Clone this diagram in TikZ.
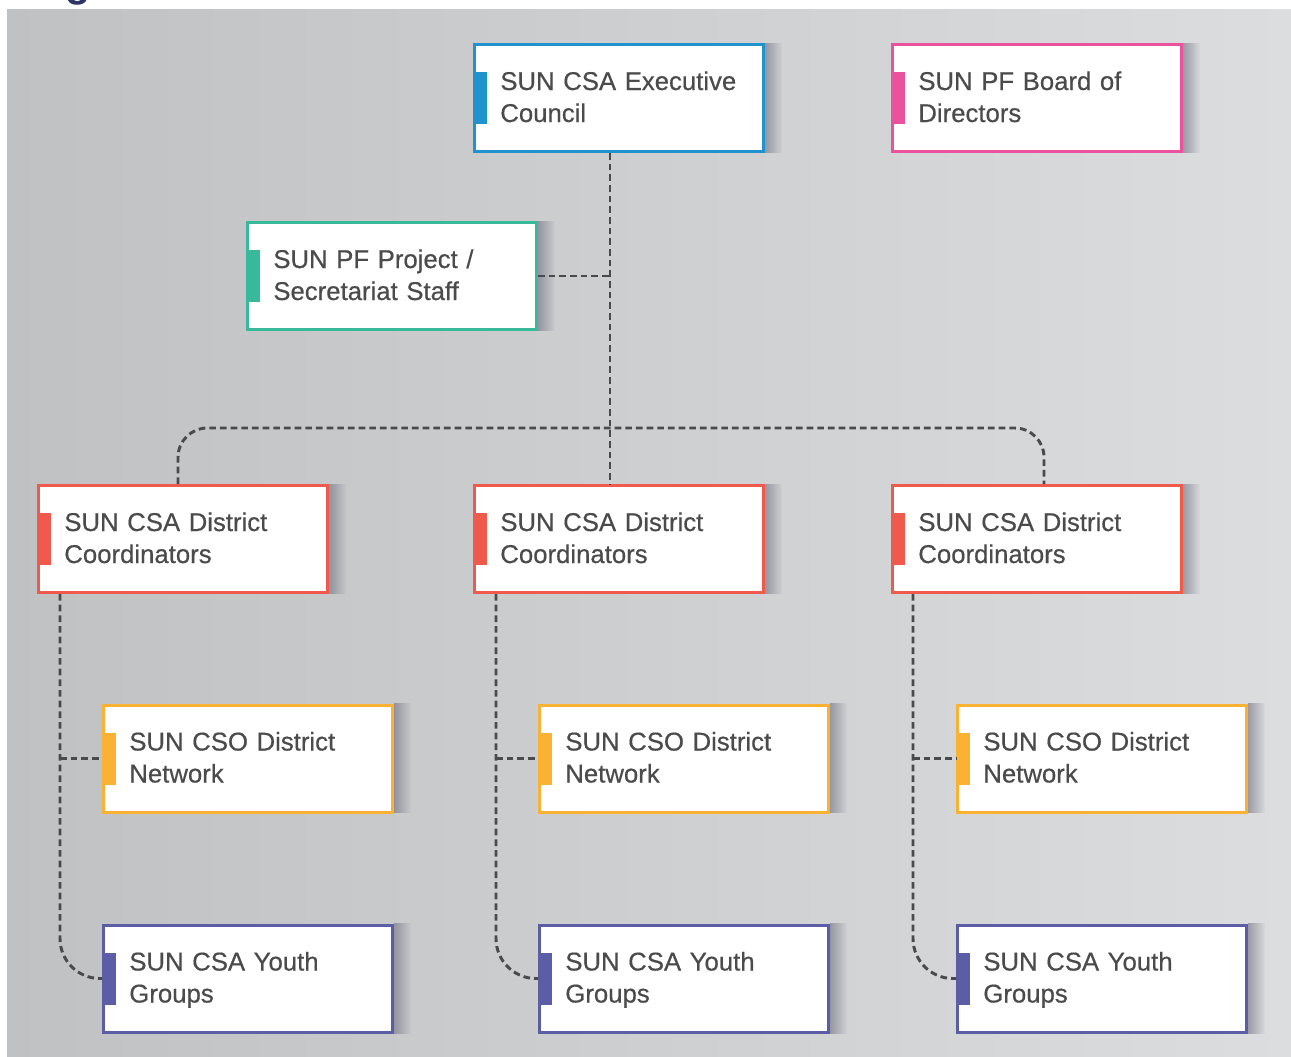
\documentclass[tikz,border=0pt]{standalone}
\usepackage{fontspec}
\setmainfont{Liberation Sans}
\newfontfamily\boxfont{Liberation Sans}[FakeBold=0.5]
\usetikzlibrary{fadings}
\definecolor{execblue}{HTML}{2093CF}
\definecolor{boardpink}{HTML}{EA529D}
\definecolor{staffteal}{HTML}{38B99C}
\definecolor{coordred}{HTML}{EF5A4C}
\definecolor{netorange}{HTML}{FBB131}
\definecolor{youthpurple}{HTML}{5B5EA6}
\definecolor{boxtext}{HTML}{4B4B4B}
\definecolor{linkgray}{HTML}{4A4A4C}
\definecolor{bgleft}{HTML}{C0C1C3}
\definecolor{bgright}{HTML}{DCDDDF}
\definecolor{shadowgray}{HTML}{6E7080}
\definecolor{titleblue}{HTML}{2D3767}

\begin{document}
\begin{tikzpicture}[x=0.75pt,y=-0.75pt,
    orgbox/.style={draw=#1, line width=2.25pt, fill=white,
        minimum width=216.75pt, minimum height=80.25pt, inner xsep=0pt,
        text width=178pt, align=left, text height=15pt, text depth=27pt,
        font=\boxfont\fontsize{19.3pt}{24pt}\selectfont, text=boxtext,
        path picture={\fill[#1] ([yshift=-19.5pt]path picture bounding box.west)
            rectangle ([xshift=9pt,yshift=19.5pt]path picture bounding box.west);}},
    link/.style={draw=linkgray, line width=2.2pt, dash pattern=on 5pt off 3pt}]
        \useasboundingbox (0,0) rectangle (1291,1056);
        \shade[left color=bgleft, right color=bgright] (7,10) rectangle (1291,1056);
        \node[anchor=base, text=titleblue, font=\bfseries\fontsize{31pt}{31pt}\selectfont] (title) at (78,-3) {g};

        % top row
        \node[orgbox=execblue] (exec) at (619,98) {SUN CSA Executive\\Council};
        \node[orgbox=boardpink] (board) at (1037,98) {SUN PF Board of\\Directors};
        \node[orgbox=staffteal] (staff) at (392,276) {SUN PF Project /\\Secretariat Staff};

        % districts
        \node[orgbox=coordred] (coordA) at (183,539) {SUN CSA District\\Coordinators};
        \node[orgbox=coordred] (coordB) at (619,539) {SUN CSA District\\Coordinators};
        \node[orgbox=coordred] (coordC) at (1037,539) {SUN CSA District\\Coordinators};

        \node[orgbox=netorange] (netA) at (248,758.5) {SUN CSO District\\Network};
        \node[orgbox=netorange] (netB) at (684,758.5) {SUN CSO District\\Network};
        \node[orgbox=netorange] (netC) at (1102,758.5) {SUN CSO District\\Network};

        \node[orgbox=youthpurple] (youthA) at (248,978.5) {SUN CSA Youth\\Groups};
        \node[orgbox=youthpurple] (youthB) at (684,978.5) {SUN CSA Youth\\Groups};
        \node[orgbox=youthpurple] (youthC) at (1102,978.5) {SUN CSA Youth\\Groups};

        \foreach \n in {exec,board,staff,coordA,coordB,coordC,netA,netB,netC,youthA,youthB,youthC}
            \fill[shadowgray, path fading=east, fill opacity=.6]
            (\n.north east) rectangle ([xshift=13pt]\n.south east);

        % links
        \coordinate (trunk) at (610,428);
        \coordinate (busL) at (178,428);
        \coordinate (busR) at (1044,428);
        \coordinate (colA) at (60,600);
        \coordinate (colB) at (496,600);
        \coordinate (colC) at (913,600);

        \draw[link] (exec.south -| trunk) -- (coordB.north -| trunk);
        \draw[link] (staff.east) -- (staff.east -| trunk);
        \draw[link, rounded corners=22pt]
        (coordA.north -| busL) -- (busL) -- (busR) -- (coordC.north -| busR);
        \foreach \c in {A,B,C} {
            \draw[link, rounded corners=30pt] (coord\c.south -| col\c) |- (youth\c.west);
            \draw[link] (net\c.west -| col\c) -- (net\c.west);
        }
    \end{tikzpicture}
\end{document}
